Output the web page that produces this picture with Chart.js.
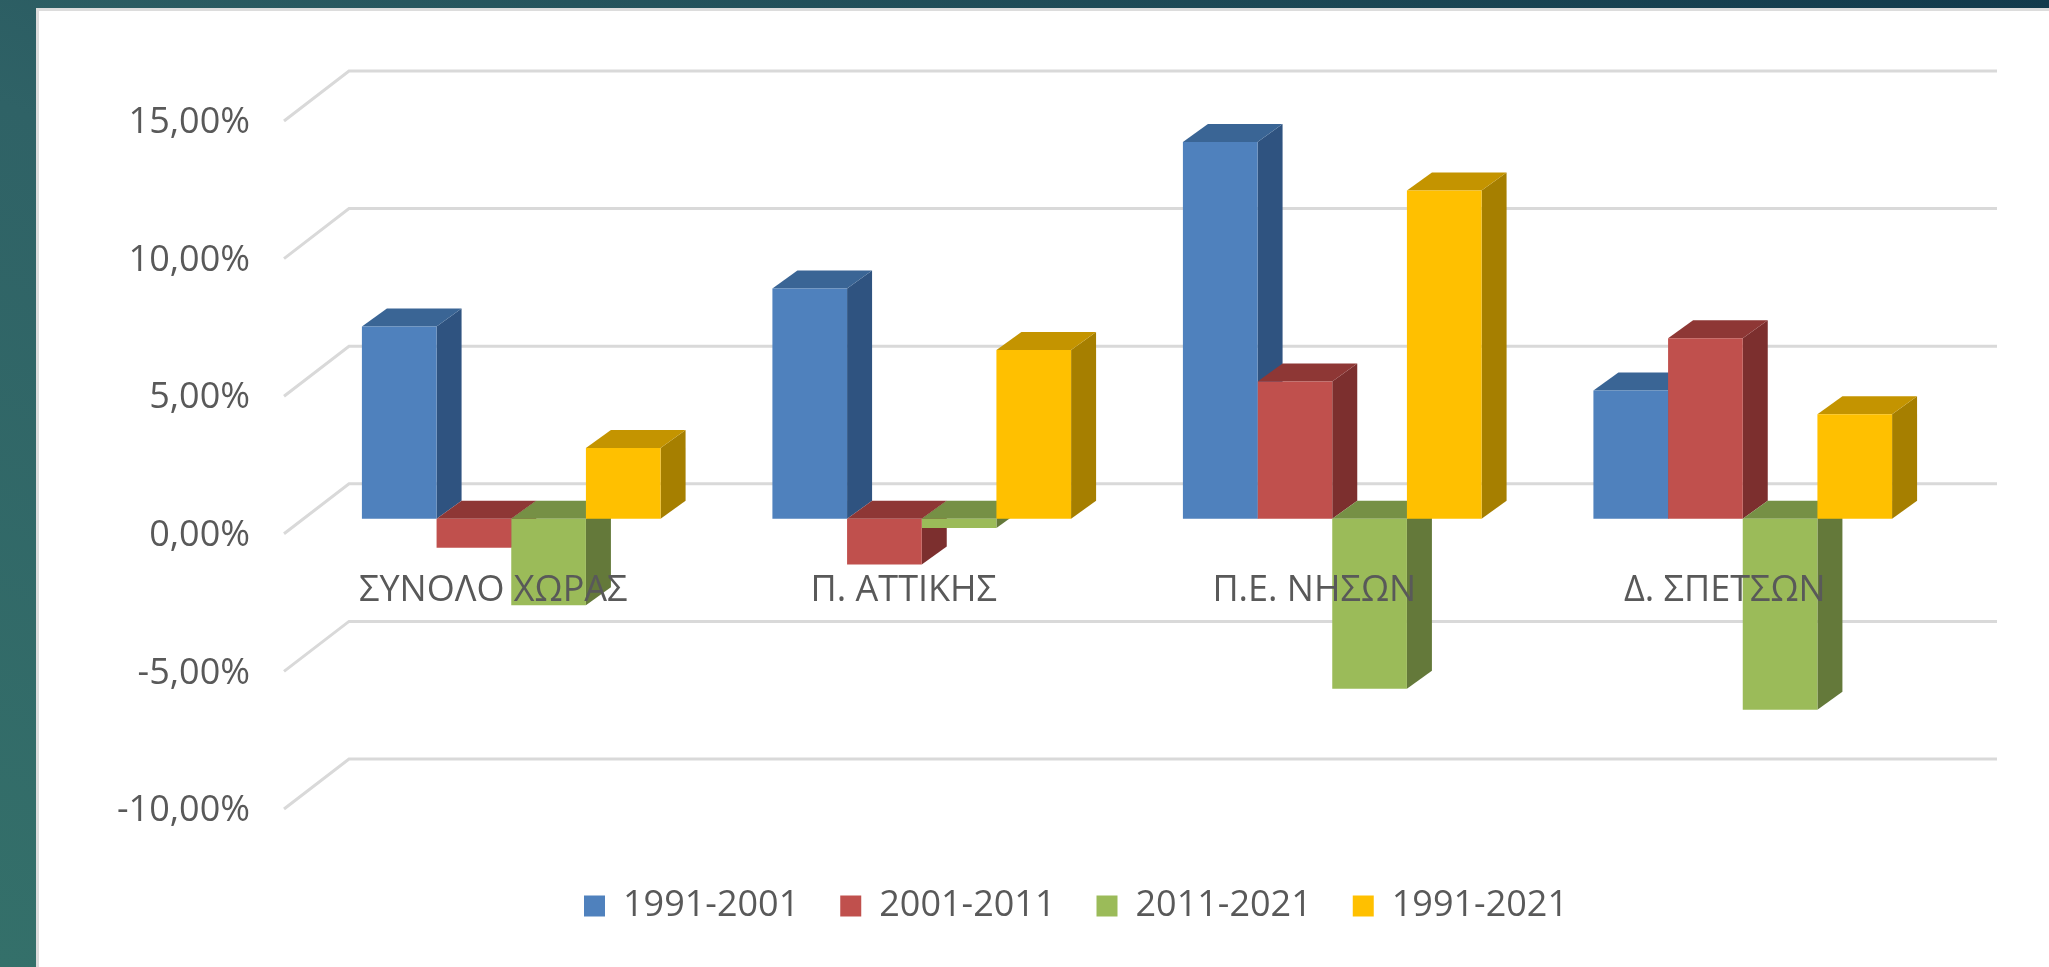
<!DOCTYPE html>
<html>
<head>
<meta charset="utf-8">
<style>
    html, body { margin: 0; height: 100%; overflow: hidden; }
    body { background: linear-gradient(25deg, #34706a 0%, #2f6266 45%, #123a4c 100%); }
    .panel {
        position: absolute; left: 36px; top: 8px; right: 0; bottom: 0;
        background: #fff; border: 3px solid #dcdcdc; border-right: 0; border-bottom: 0;
    }
    canvas { position: absolute; left: 0; top: 0; filter: blur(0.6px); }
</style>
</head>
<body>
<div class="panel"></div>
<canvas id="chart" width="2049" height="967"></canvas>
<script src="https://cdn.jsdelivr.net/npm/chart.js@4"></script>
<script>
const categories = ['ΣΥΝΟΛΟ ΧΩΡΑΣ', 'Π. ΑΤΤΙΚΗΣ', 'Π.Ε. ΝΗΣΩΝ', 'Δ. ΣΠΕΤΣΩΝ'];
const period1 = [6.99, 8.37, 13.69, 4.66];
const period2 = [-1.05, -1.66, 4.99, 6.56];
const period3 = [-3.14, -0.33, -6.18, -6.94];
const period4 = [2.57, 6.13, 11.93, 3.80];
const tickLabels = ['-10,00%', '-5,00%', '0,00%', '5,00%', '10,00%', '15,00%'];

const FONT = 'Open Sans';
const TEXT = '#595959';

// depth of the fake 3D look
const barDx = 25, barDy = 18;

// [front, top, side]
const faces = [
    ['#4f81bd', '#3a6595', '#2f5380'],
    ['#c0504d', '#8e3735', '#7c2f2e'],
    ['#9bbb59', '#769045', '#64793a'],
    ['#ffc000', '#c49400', '#a67f00']
];

function poly(ctx, pts, color) {
    ctx.fillStyle = color;
    ctx.beginPath();
    pts.forEach((p, i) => i ? ctx.lineTo(p[0], p[1]) : ctx.moveTo(p[0], p[1]));
    ctx.closePath();
    ctx.fill();
}

const wall3d = {
    id: 'wall3d',
    beforeDatasetsDraw(chart) {
        const { ctx, chartArea, scales } = chart;
        const front = chartArea.left - 22, back = chartArea.left + 43, end = chartArea.right + 49;
        ctx.save();
        ctx.strokeStyle = '#d9d9d9';
        ctx.lineWidth = 3;
        scales.y.ticks.forEach(t => {
            const y = scales.y.getPixelForValue(t.value);
            ctx.beginPath();
            ctx.moveTo(front, y + 15);
            ctx.lineTo(back, y - 35);
            ctx.lineTo(end, y - 35);
            ctx.stroke();
        });
        ctx.restore();
    }
};

const bars3d = {
    id: 'bars3d',
    beforeDatasetsDraw(chart) {
        const { ctx } = chart;
        categories.forEach((c, i) => {
            chart.data.datasets.forEach((ds, d) => {
                const bar = chart.getDatasetMeta(d).data[i];
                const l = bar.x - bar.width / 2, r = bar.x + bar.width / 2;
                const hi = Math.min(bar.y, bar.base), lo = Math.max(bar.y, bar.base);
                poly(ctx, [[r, hi], [r + barDx, hi - barDy], [r + barDx, lo - barDy], [r, lo]], faces[d][2]);
                poly(ctx, [[l, hi], [l + barDx, hi - barDy], [r + barDx, hi - barDy], [r, hi]], faces[d][1]);
            });
        });
    }
};

// legend sits off-centre and lower than the layout puts it
const legendShift = {
    id: 'legendShift',
    afterLayout(chart) {
        chart.legend.left += 52;
        chart.legend.right += 52;
        chart.legend.top += 53;
        chart.legend.bottom += 53;
    }
};

new Chart(document.getElementById('chart'), {
    type: 'bar',
    data: {
        labels: categories,
        datasets: [
            { label: '1991-2001', data: period1, backgroundColor: faces[0][0] },
            { label: '2001-2011', data: period2, backgroundColor: faces[1][0] },
            { label: '2011-2021', data: period3, backgroundColor: faces[2][0] },
            { label: '1991-2021', data: period4, backgroundColor: faces[3][0] }
        ]
    },
    plugins: [wall3d, bars3d, legendShift],
    options: {
        responsive: false,
        animation: false,
        categoryPercentage: 0.7276,
        barPercentage: 1,
        layout: {
            autoPadding: false,
            padding: { left: 100, right: 101, top: 106, bottom: 86 }
        },
        plugins: {
            tooltip: { enabled: false },
            legend: {
                position: 'bottom',
                labels: {
                    boxWidth: 21,
                    boxHeight: 21,
                    padding: 41,
                    color: TEXT,
                    font: { family: FONT, size: 36 }
                }
            }
        },
        scales: {
            x: {
                position: { y: 0 },
                grid: { display: false },
                border: { display: false },
                ticks: {
                    z: 1,
                    padding: 42,
                    labelOffset: -18,
                    maxRotation: 0,
                    color: TEXT,
                    font: { family: FONT, size: 36 }
                }
            },
            y: {
                min: -10,
                max: 15,
                afterFit(scale) { scale.width = 206; },
                grid: { display: false },
                border: { display: false },
                ticks: {
                    stepSize: 5,
                    padding: 48,
                    labelOffset: 17,
                    color: TEXT,
                    font: { family: FONT, size: 36 },
                    callback: (val, i) => tickLabels[i]
                }
            }
        }
    }
});
</script>
</body>
</html>
